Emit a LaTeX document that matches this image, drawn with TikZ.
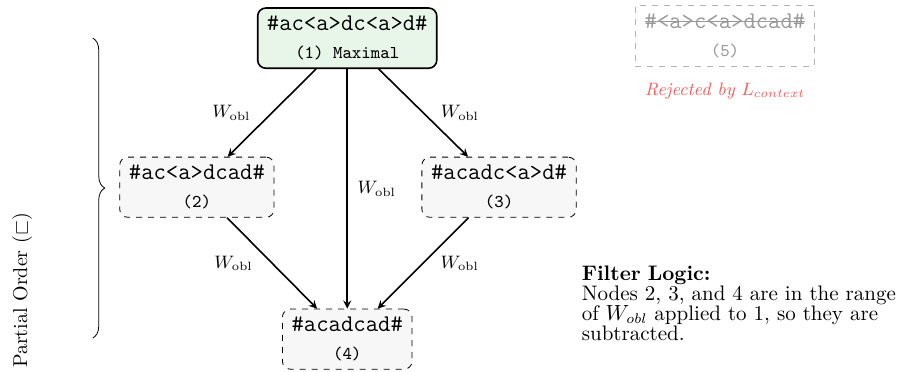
\documentclass[tikz,border=0pt]{standalone}
\usepackage{amsmath}
\usepackage{amssymb}
\usepackage{xcolor}
\usepackage{tikz}
\usetikzlibrary{arrows, decorations.pathreplacing}

\definecolor{maxfill}{HTML}{E8F5E9}
\newsavebox\strkbox
\newcommand\strk[1]{\sbox\strkbox{#1}\rlap{\usebox\strkbox}\rule[0.25em]{\wd\strkbox}{0.7pt}}

\begin{document}
\begin{tikzpicture}[
    maximal/.style={draw, thick, rounded corners, fill=maxfill, align=center,
        font=\large\ttfamily, inner xsep=4.6pt, inner ysep=4pt},
    cand/.style={draw, dashed, rounded corners, fill=gray!6, align=center,
        font=\large\ttfamily, inner xsep=4.6pt, inner ysep=4pt},
    rejected/.style={draw=gray!60, dashed, align=center, text=gray!80,
        font=\large\ttfamily, inner xsep=4.6pt, inner ysep=4pt},
    obl/.style={-stealth, thick},
    lbl/.style={font=\small}
]
    \useasboundingbox (0,0) rectangle (15.886,-6.537);

    \node[maximal] (one) at (6.102,-0.67) {\#ac<a>dc<a>d\#\\ {\small (1) Maximal}};
    \node[cand] (two) at (3.46,-3.29) {\#ac<a>dcad\#\\ {\small (2)}};
    \node[cand] (three) at (8.77,-3.29) {\#acadc<a>d\#\\ {\small (3)}};
    \node[cand] (four) at (6.102,-5.96) {\#acadcad\#\\ {\small (4)}};

    \node[rejected] (five) at (12.74,-0.63) {\strk{\#<a>c<a>dcad\#}\\ {\small (5)}};
    \node[text=red!65, font=\small\itshape] (why) at (12.74,-1.60) {Rejected by $L_{context}$};

    \draw[obl] (one) -- node[lbl, left=7pt] {$W_{\mathrm{obl}}$} (two);
    \draw[obl] (one) -- node[lbl, right=5pt] {$W_{\mathrm{obl}}$} (three);
    \draw[obl] (one) -- node[lbl, right=1.5pt] {$W_{\mathrm{obl}}$} (four);
    \draw[obl] (two) -- node[lbl, left=6pt] {$W_{\mathrm{obl}}$} (four);
    \draw[obl] (three) -- node[lbl, right=5pt] {$W_{\mathrm{obl}}$} (four);

    % partial order brace
    \coordinate (btop) at (1.63,-0.67);
    \coordinate (bbot) at (1.63,-5.94);
    \draw[decorate, decoration={brace, amplitude=6pt}] (btop) -- (bbot);
    \node[rotate=90] (order) at (0.39,-5.10) {Partial Order ($\sqsubset$)};

    \node[anchor=north west, text width=5.8cm, align=left, font=\fontsize{10.5}{10}\selectfont] (logic) at (10.1,-4.55)
        {\textbf{Filter Logic:}\\ Nodes 2, 3, and 4 are in the range of $W_{obl}$ applied to 1, so they are subtracted.};
\end{tikzpicture}
\end{document}
